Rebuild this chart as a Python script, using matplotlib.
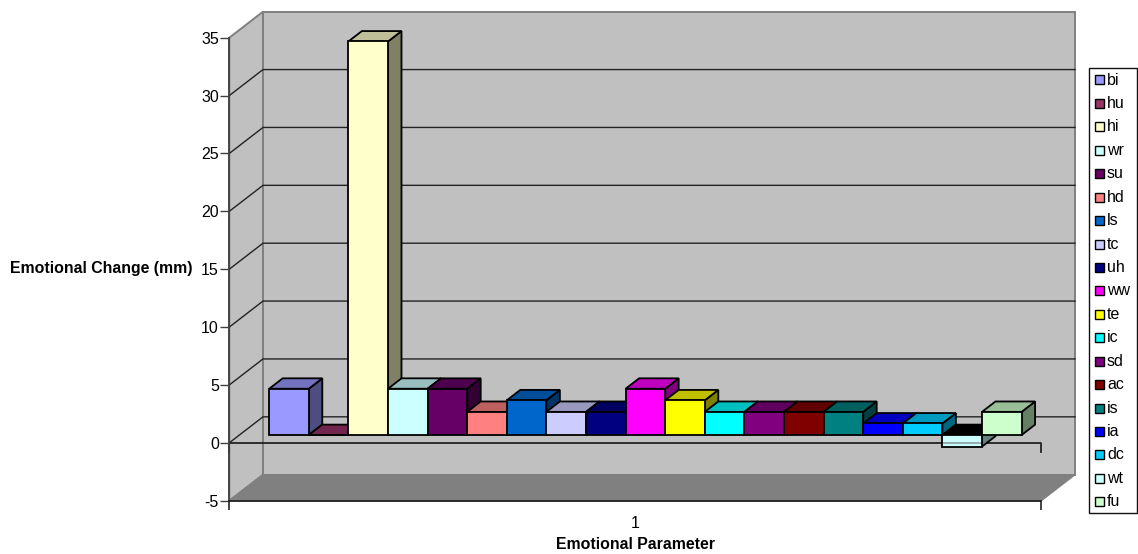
import matplotlib
matplotlib.use("Agg")
import matplotlib.pyplot as plt
from matplotlib.colors import to_rgb
from matplotlib.patches import Rectangle

plt.rcParams['font.family'] = ['Liberation Sans', 'DejaVu Sans']
plt.rcParams['axes.unicode_minus'] = False

names = ['bi','hu','hi','wr','su','hd','ls','tc','uh','ww','te','ic','sd','ac','is','ia','dc','wt','fu']
values = [4,0,34,4,4,2,3,2,2,4,3,2,2,2,2,1,1,-1,2]
colors = ['#9999FF','#993366','#FFFFCC','#CCFFFF','#660066','#FF8080','#0066CC','#CCCCFF','#000080',
          '#FF00FF','#FFFF00','#00FFFF','#800080','#800000','#008080','#0000FF','#00CCFF','#CCFFFF','#CCFFCC']
y_ticks = [-5,0,5,10,15,20,25,30,35]
category_label = '1'
y_title = 'Emotional Change (mm)'
x_title = 'Emotional Parameter'

W, H = 1138, 554
L, R, T, B = 229.3, 1041.3, 37.7, 500.7      # front plane in pixels
BAR_PX = 39.6
X_MAX = (R - L) / BAR_PX
PX_Y = (B - T) / 40.0
DX = 33.7 / BAR_PX                             # wall depth in data units
DY = 26.0 / PX_Y
D0, D1 = 0.30, 0.70                            # bar depth span
GAP = ((R - L) - BAR_PX * len(values)) / 2 / BAR_PX

fig = plt.figure(figsize=(W/100, H/100), dpi=100, facecolor='white')
ax = fig.add_axes([L/W, 1-B/H, (R-L)/W, (B-T)/H], facecolor='none')
ax.set_xlim(0, X_MAX)
ax.set_ylim(-5, 35)

def d(x, y, f):
    return (x + f*DX, y + f*DY)

def poly(pts, fc, ec, lw, z):
    xs, ys = zip(*pts)
    ax.fill(xs, ys, facecolor=fc, edgecolor=ec, linewidth=lw, zorder=z,
            clip_on=False, joinstyle='miter')

def shade(c, k):
    return tuple(v*k for v in to_rgb(c))

# walls and floor
GREY = '#808080'
poly([d(0,-5,0), d(0,-5,1), d(0,35,1), d(0,35,0)], '#C0C0C0', GREY, 1.4, 1)
poly([d(0,-5,1), d(X_MAX,-5,1), d(X_MAX,35,1), d(0,35,1)], '#C0C0C0', GREY, 1.4, 1)
poly([d(0,-5,0), d(X_MAX,-5,0), d(X_MAX,-5,1), d(0,-5,1)], GREY, GREY, 1.0, 1.1)

# gridlines
for t in y_ticks[1:-1]:
    a, b, c = d(0,t,0), d(0,t,1), d(X_MAX,t,1)
    ax.plot([a[0],b[0],c[0]], [a[1],b[1],c[1]], color='#222222', lw=1.0, zorder=1.5,
            clip_on=False, solid_joinstyle='miter')

# zero plane line with its end ticks
tick_down = 9.5 / PX_Y
ax.plot([0,0,X_MAX,X_MAX], [-tick_down,0,0,-tick_down], color='#222222', lw=1.3, zorder=1.6, clip_on=False)

# bars
EC = '#000000'
LW = 1.3
for i, (v, c) in enumerate(zip(values, colors)):
    x0 = GAP + i
    x1 = x0 + 1
    hi, lo = max(v, 0), min(v, 0)
    z = 2 + i*0.01
    side = [d(x1,lo,D0), d(x1,lo,D1), d(x1,hi,D1), d(x1,hi,D0)]
    top = [d(x0,hi,D0), d(x1,hi,D0), d(x1,hi,D1), d(x0,hi,D1)]
    poly(side, shade(c, 0.5), EC, LW, z)
    poly(top, '#000000' if v < 0 else shade(c, 0.75), EC, LW, z)
    p = d(x0, lo, D0)
    ax.bar(p[0], hi-lo, width=1, bottom=p[1], align='edge', color=c, edgecolor=EC,
           linewidth=LW, zorder=z+0.001, clip_on=False)
    if v < 0:
        # the zero line shows faintly through a bar that hangs below it
        ax.plot([p[0]+0.02, p[0]+0.98], [0, 0], color='#8AA0A0', lw=1.2, zorder=z+0.002,
                clip_on=False, solid_capstyle='butt')

# axes
for s in ['top','right']:
    ax.spines[s].set_visible(False)
ax.spines['left'].set_color('#404040')
ax.spines['left'].set_linewidth(1.3)
ax.spines['bottom'].set_color('#222222')
ax.spines['bottom'].set_linewidth(1.3)
ax.spines['left'].set_zorder(5)
ax.spines['bottom'].set_zorder(5)
ax.set_yticks(y_ticks)
ax.tick_params(axis='y', length=6.5, width=1.0, color='#404040', pad=1, labelsize=11.5, labelcolor='black')
ax.set_xticks([0, X_MAX])
ax.set_xticklabels(['', ''])
ax.tick_params(axis='x', which='major', length=6.2, width=1.2, color='#222222')
ax.set_xticks([X_MAX/2], minor=True)
ax.set_xticklabels([category_label], minor=True)
ax.tick_params(axis='x', which='minor', length=0, pad=10.7, labelsize=11.5)

fig.text(192/W, 1-269/H, y_title, ha='right', va='center', fontsize=11.4, fontweight='bold')
fig.text(635.5/W, 1-544.5/H, x_title, ha='center', va='center', fontsize=11.4, fontweight='bold')

# legend
lx0, lx1, ly0, ly1 = 1088.5, 1136.5, 67.5, 512.5
fig.add_artist(Rectangle((lx0/W, 1-ly1/H), (lx1-lx0)/W, (ly1-ly0)/H, transform=fig.transFigure,
                         facecolor='white', edgecolor='#111111', linewidth=1.0))
for i, (n, c) in enumerate(zip(names, colors)):
    yc = 80.0 + i*23.43
    fig.add_artist(Rectangle((1094.5/W, 1-(yc+4.5)/H), 9/W, 9/H, transform=fig.transFigure,
                             facecolor=c, edgecolor='#000000', linewidth=1.0))
    fig.text(1107/W, 1-yc/H, n, ha='left', va='center', fontsize=11.5)

fig.savefig('out.png', dpi=100)
